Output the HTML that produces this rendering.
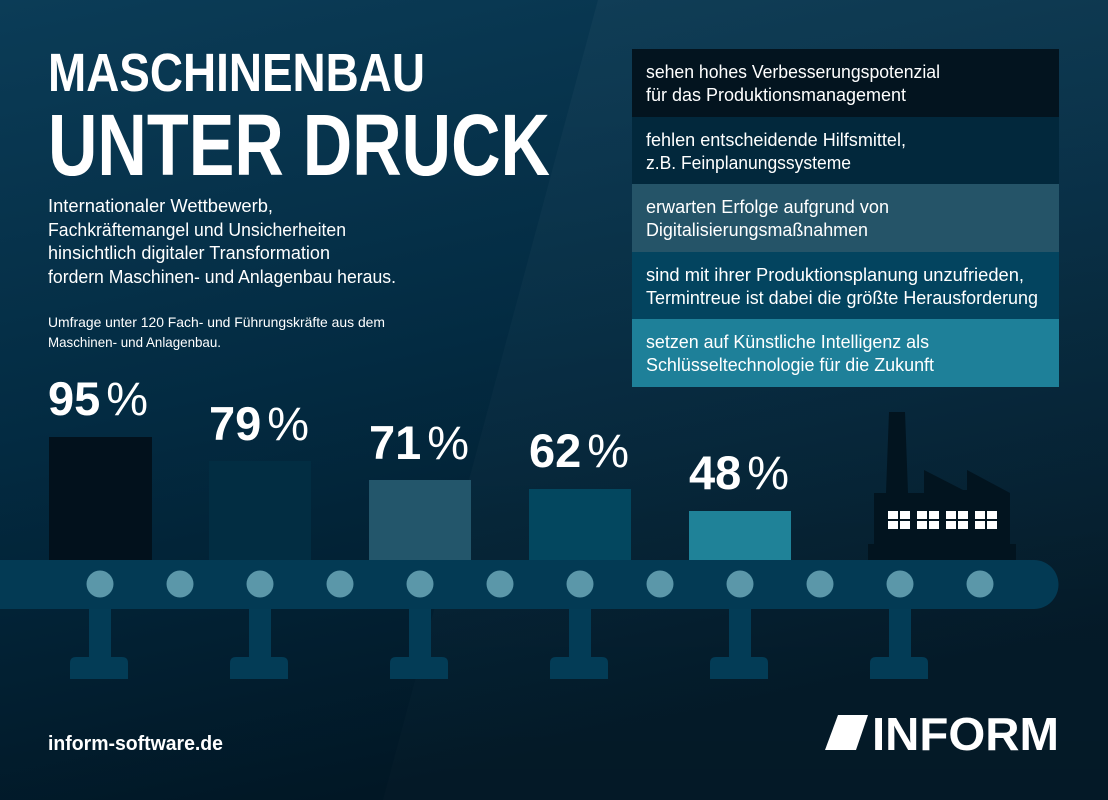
<!DOCTYPE html>
<html><head><meta charset="utf-8"><style>
html,body{margin:0;padding:0;width:1108px;height:800px;overflow:hidden;background:#021a2a}
svg{display:block}
text{font-family:"Liberation Sans Narrow","Liberation Sans",sans-serif;fill:#fff}
</style></head><body>
<svg width="1108" height="800" viewBox="0 0 1108 800" xmlns="http://www.w3.org/2000/svg">
<defs>
<linearGradient id="bg" x1="0" y1="0" x2="0.3" y2="1">
<stop offset="0" stop-color="#0b3c57"/><stop offset="0.5" stop-color="#032b42"/><stop offset="1" stop-color="#011725"/>
</linearGradient>
<linearGradient id="band" x1="0" y1="0" x2="0" y2="1">
<stop offset="0" stop-color="#ffffff" stop-opacity="0.03"/><stop offset="1" stop-color="#ffffff" stop-opacity="0.01"/>
</linearGradient>
</defs>
<rect width="1108" height="800" fill="url(#bg)"/>
<polygon points="598,0 1108,0 1108,800 383,800" fill="url(#band)"/>

<text x="48" y="91" font-size="54" font-weight="bold" textLength="377" lengthAdjust="spacingAndGlyphs">MASCHINENBAU</text>
<text x="48" y="175" font-size="87" font-weight="bold" textLength="502" lengthAdjust="spacingAndGlyphs">UNTER DRUCK</text>
<g font-size="18">
<text x="48" y="212" textLength="225" lengthAdjust="spacingAndGlyphs">Internationaler Wettbewerb,</text>
<text x="48" y="236" textLength="298" lengthAdjust="spacingAndGlyphs">Fachkräftemangel und Unsicherheiten</text>
<text x="48" y="259" textLength="282" lengthAdjust="spacingAndGlyphs">hinsichtlich digitaler Transformation</text>
<text x="48" y="283" textLength="348" lengthAdjust="spacingAndGlyphs">fordern Maschinen- und Anlagenbau heraus.</text>
</g>
<g font-size="14">
<text x="48" y="327" textLength="337" lengthAdjust="spacingAndGlyphs">Umfrage unter 120 Fach- und Führungskräfte aus dem</text>
<text x="48" y="347" textLength="173" lengthAdjust="spacingAndGlyphs">Maschinen- und Anlagenbau.</text>
</g>

<rect x="632" y="49" width="427" height="68" fill="#03141f"/>
<rect x="632" y="117" width="427" height="67" fill="#02283c"/>
<rect x="632" y="184" width="427" height="68" fill="#255468"/>
<rect x="632" y="252" width="427" height="67" fill="#03445f"/>
<rect x="632" y="319" width="427" height="68" fill="#1e8099"/>
<g font-size="18">
<text x="646" y="78" textLength="294" lengthAdjust="spacingAndGlyphs">sehen hohes Verbesserungspotenzial</text>
<text x="646" y="101" textLength="260" lengthAdjust="spacingAndGlyphs">für das Produktionsmanagement</text>
<text x="646" y="146" textLength="260" lengthAdjust="spacingAndGlyphs">fehlen entscheidende Hilfsmittel,</text>
<text x="646" y="169" textLength="205" lengthAdjust="spacingAndGlyphs">z.B. Feinplanungssysteme</text>
<text x="646" y="213" textLength="243" lengthAdjust="spacingAndGlyphs">erwarten Erfolge aufgrund von</text>
<text x="646" y="236" textLength="222" lengthAdjust="spacingAndGlyphs">Digitalisierungsmaßnahmen</text>
<text x="646" y="281" textLength="378" lengthAdjust="spacingAndGlyphs">sind mit ihrer Produktionsplanung unzufrieden,</text>
<text x="646" y="304" textLength="392" lengthAdjust="spacingAndGlyphs">Termintreue ist dabei die größte Herausforderung</text>
<text x="646" y="348" textLength="283" lengthAdjust="spacingAndGlyphs">setzen auf Künstliche Intelligenz als</text>
<text x="646" y="371" textLength="288" lengthAdjust="spacingAndGlyphs">Schlüsseltechnologie für die Zukunft</text>
</g>

<rect x="49" y="437" width="103" height="123" fill="#02111c"/>
<rect x="209" y="461" width="102" height="99" fill="#022d42"/>
<rect x="369" y="480" width="102" height="80" fill="#23566b"/>
<rect x="529" y="489" width="102" height="71" fill="#03475f"/>
<rect x="689" y="511" width="102" height="49" fill="#1f8298"/>

<g font-size="47">
<text x="48" y="415"><tspan font-weight="bold">95</tspan><tspan dx="6">%</tspan></text>
<text x="209" y="440"><tspan font-weight="bold">79</tspan><tspan dx="6">%</tspan></text>
<text x="369" y="459"><tspan font-weight="bold">71</tspan><tspan dx="6">%</tspan></text>
<text x="529" y="467"><tspan font-weight="bold">62</tspan><tspan dx="6">%</tspan></text>
<text x="689" y="489"><tspan font-weight="bold">48</tspan><tspan dx="6">%</tspan></text>
</g>

<polygon points="889,412 905,412 908,493 886,493" fill="#02141f"/>
<polygon points="874,493 924,493 924,470 963,490 967,490 967,470 1010,493 1010,544 874,544" fill="#02141f"/>
<rect x="868" y="544" width="148" height="16" fill="#02141f"/>
<g fill="#fff">
<g id="w"><rect x="888" y="511" width="10" height="8"/><rect x="900" y="511" width="10" height="8"/><rect x="888" y="521" width="10" height="8"/><rect x="900" y="521" width="10" height="8"/></g>
<use href="#w" x="29"/><use href="#w" x="58"/><use href="#w" x="87"/>
</g>

<g fill="#033c56">
<g id="leg"><rect x="89" y="605" width="22" height="54"/><path d="M70,679 V663 Q70,657 76,657 H122 Q128,657 128,663 V679 Z"/></g>
<use href="#leg" x="160"/><use href="#leg" x="320"/><use href="#leg" x="480"/><use href="#leg" x="640"/><use href="#leg" x="800"/>
</g>
<path d="M0,560 H1034 A24.5,24.5 0 0 1 1034,609 H0 Z" fill="#033a54"/>
<g fill="#5b97a9">
<circle cx="100" cy="584" r="13.5"/><circle cx="180" cy="584" r="13.5"/><circle cx="260" cy="584" r="13.5"/><circle cx="340" cy="584" r="13.5"/><circle cx="420" cy="584" r="13.5"/><circle cx="500" cy="584" r="13.5"/><circle cx="580" cy="584" r="13.5"/><circle cx="660" cy="584" r="13.5"/><circle cx="740" cy="584" r="13.5"/><circle cx="820" cy="584" r="13.5"/><circle cx="900" cy="584" r="13.5"/><circle cx="980" cy="584" r="13.5"/>
</g>

<text x="48" y="750" font-size="20" font-weight="bold" textLength="175" lengthAdjust="spacingAndGlyphs">inform-software.de</text>
<polygon points="838,715 868,715 856,750 825,750" fill="#fff"/>
<text x="872" y="750" font-size="46" font-weight="bold" textLength="187" lengthAdjust="spacingAndGlyphs" font-family="Liberation Sans, sans-serif">INFORM</text>
</svg>
</body></html>
